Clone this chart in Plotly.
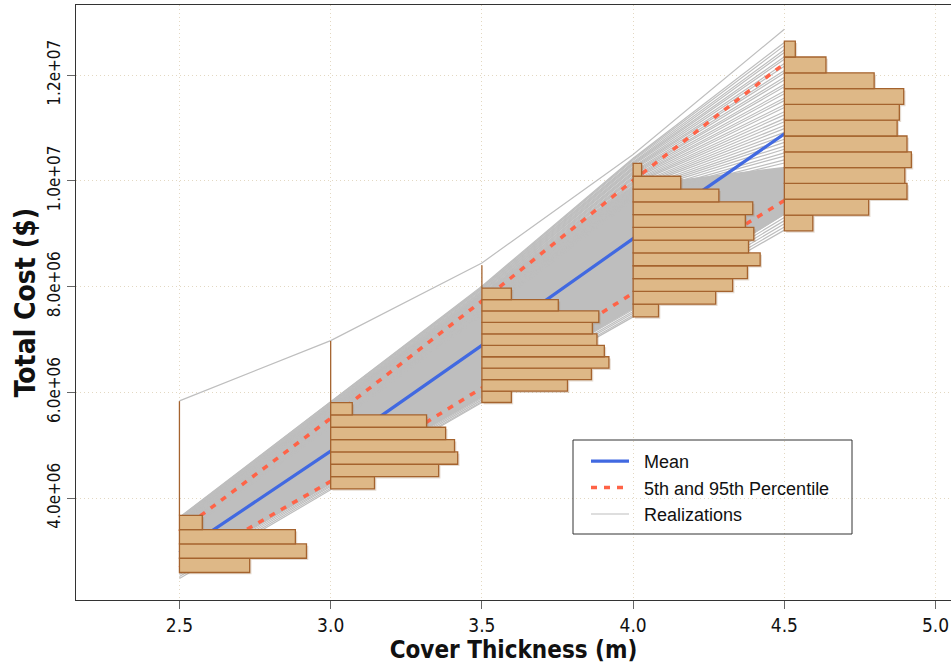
import numpy as np
import plotly.graph_objects as go

# ---------------- data (costs in $) ----------------
thickness = [2.5, 3.0, 3.5, 4.0, 4.5]
mean_cost = [2.97e6, 4.89e6, 6.89e6, 8.91e6, 10.89e6]
p05_cost = [2.68e6, 4.32e6, 6.085e6, 7.88e6, 9.63e6]
p95_cost = [3.37e6, 5.51e6, 7.73e6, 10.01e6, 12.22e6]

# dense core of overlapping realizations (solid grey area)
core_lower = [2.62e6, 4.26e6, 5.90e6, 7.58e6, 9.36e6]
core_upper = [3.56e6, 5.74e6, 7.88e6, 9.92e6, 10.27e6]

# individually visible realizations: value (millions of $) of each line at each thickness
real_25 = [5.84, 3.64, 3.63, 3.62, 3.61, 3.60, 3.59, 3.58, 3.57, 3.56, 3.55, 3.54, 3.53,
           3.52, 3.51, 3.50, 3.49, 3.48, 3.47, 3.46, 3.45, 3.44, 3.43, 3.42, 3.41, 3.40,
           3.39, 3.38, 3.37, 3.36, 3.35, 3.34, 3.33, 3.32, 3.31, 3.30, 3.29,
           2.48, 2.52, 2.56, 2.60, 2.64, 2.68]
real_30 = [6.98, 5.83, 5.82, 5.80, 5.79, 5.77, 5.76, 5.75, 5.73, 5.72, 5.70, 5.69, 5.68,
           5.66, 5.65, 5.63, 5.62, 5.61, 5.59, 5.58, 5.56, 5.55, 5.54, 5.52, 5.51, 5.49,
           5.48, 5.47, 5.45, 5.44, 5.42, 5.41, 5.40, 5.38, 5.37, 5.35, 5.34,
           4.16, 4.19, 4.22, 4.25, 4.28, 4.31]
real_35 = [8.45, 8.01, 7.99, 7.98, 7.96, 7.95, 7.93, 7.91, 7.90, 7.88, 7.86, 7.85, 7.83,
           7.82, 7.80, 7.78, 7.77, 7.75, 7.74, 7.72, 7.70, 7.69, 7.67, 7.66, 7.64, 7.62,
           7.61, 7.59, 7.57, 7.56, 7.54, 7.53, 7.51, 7.49, 7.48, 7.46, 7.45,
           5.81, 5.83, 5.86, 5.89, 5.92, 5.95]
real_40 = [10.50, 10.43, 10.41, 10.39, 10.36, 10.34, 10.32, 10.30, 10.27, 10.25, 10.23,
           10.21, 10.18, 10.16, 10.14, 10.12, 10.09, 10.07, 10.05, 10.03, 10.00, 9.98,
           9.96, 9.94, 9.91, 9.89, 9.87, 9.85, 9.82, 9.80, 9.78, 9.76, 9.73, 9.71, 9.69,
           9.67, 9.64,
           7.43, 7.46, 7.50, 7.53, 7.57, 7.61]
real_45 = [12.87, 12.62, 12.56, 12.48, 12.43, 12.35, 12.30, 12.22, 12.17, 12.09, 12.04,
           11.96, 11.91, 11.83, 11.78, 11.70, 11.65, 11.57, 11.52, 11.44, 11.39, 11.31,
           11.25, 11.18, 11.12, 11.05, 10.99, 10.92, 10.86, 10.79, 10.73, 10.66, 10.60,
           10.53, 10.47, 10.40, 10.34,
           9.07, 9.13, 9.19, 9.25, 9.31, 9.37]

# histograms of total cost at each thickness (12 bins, bottom -> top)
hist_pos = [2.5, 3.0, 3.5, 4.0, 4.5]
hist_min = [2.595e6, 4.176e6, 5.810e6, 7.429e6, 9.056e6]
hist_max = [5.835e6, 6.975e6, 8.407e6, 10.331e6, 12.644e6]
hist_counts = [
    [209, 378, 345, 68, 0, 0, 0, 0, 0, 0, 0, 0],
    [69, 170, 200, 195, 181, 151, 34, 0, 0, 0, 0, 0],
    [32, 93, 119, 138, 133, 125, 120, 127, 83, 32, 0, 0],
    [24, 78, 94, 108, 120, 109, 114, 106, 113, 81, 45, 8],
    [26, 77, 112, 110, 116, 112, 103, 105, 109, 82, 38, 10],
]
HIST_WIDTH = 0.42  # x-extent of the tallest bin

x_ticks = [2.5, 3.0, 3.5, 4.0, 4.5, 5.0]
x_ticktext = ["2.5", "3.0", "3.5", "4.0", "4.5", "5.0"]
y_ticks = [4e6, 6e6, 8e6, 10e6, 12e6]
y_ticktext = ["4.0e+06", "6.0e+06", "8.0e+06", "1.0e+07", "1.2e+07"]

X_RANGE = [2.158, 5.051]
Y_RANGE = [2.075e6, 13.328e6]

# ---------------- styles ----------------
AXIS_FONT = "DejaVu Sans Condensed, Liberation Sans Narrow, Liberation Sans, Arial, sans-serif"
LEG_FONT = "Liberation Sans, Arial, sans-serif"
GREY = "#BEBEBE"
GRID = "#E3D8C2"
BAR_FILL = "#DEB887"
BAR_LINE = "#A5632E"
NB = "\u00a0\u00a0"

fig = go.Figure()

# dense core
fig.add_trace(go.Scatter(
    x=thickness + thickness[::-1],
    y=core_upper + core_lower[::-1],
    fill="toself", fillcolor=GREY, line=dict(width=0),
    mode="lines", showlegend=False, hoverinfo="skip"))

# individual realizations
rx, ry = [], []
for vals in zip(real_25, real_30, real_35, real_40, real_45):
    rx += thickness + [None]
    ry += [v * 1e6 for v in vals] + [None]
fig.add_trace(go.Scatter(
    x=rx, y=ry, mode="lines", line=dict(color=GREY, width=1.2),
    name=NB + "Realizations", legendrank=3, hoverinfo="skip"))

# percentiles
fig.add_trace(go.Scatter(
    x=thickness + [None] + thickness, y=p05_cost + [None] + p95_cost,
    mode="lines", line=dict(color="#FF6347", width=3.5, dash="6px,7px"),
    name=NB + "5th and 95th Percentile", legendrank=2, hoverinfo="skip"))

# mean
fig.add_trace(go.Scatter(
    x=thickness, y=mean_cost, mode="lines",
    line=dict(color="#4169E1", width=3.2),
    name=NB + "Mean", legendrank=1, hoverinfo="skip"))

# histograms (on an overlaying axis pair so they sit above the lines)
for pos, hmin, hmax, counts in zip(hist_pos, hist_min, hist_max, hist_counts):
    edges = np.linspace(hmin, hmax, len(counts) + 1)
    centers = (edges[:-1] + edges[1:]) / 2
    binw = edges[1] - edges[0]
    cmax = max(counts)
    idx = [i for i, c in enumerate(counts) if c > 0]
    lengths = [counts[i] / cmax * HIST_WIDTH for i in idx]
    # soft shadow
    fig.add_trace(go.Bar(
        orientation="h", base=pos + 0.006,
        y=[centers[i] - 0.035e6 for i in idx], x=lengths,
        width=binw, marker=dict(color="rgba(150,110,70,0.25)", line=dict(width=0)),
        xaxis="x2", yaxis="y2", showlegend=False, hoverinfo="skip"))
    fig.add_trace(go.Bar(
        orientation="h", base=pos,
        y=[centers[i] for i in idx], x=lengths,
        width=binw, marker=dict(color=BAR_FILL, line=dict(color=BAR_LINE, width=1.3)),
        xaxis="x2", yaxis="y2", showlegend=False, hoverinfo="skip"))
    top_nonzero = edges[idx[-1] + 1]
    if top_nonzero < hmax:
        fig.add_trace(go.Scatter(
            x=[pos, pos], y=[top_nonzero, hmax], mode="lines",
            line=dict(color=BAR_LINE, width=1.3),
            xaxis="x2", yaxis="y2", showlegend=False, hoverinfo="skip"))

# legend frame
PL, PR, PT, PB = 76, 951, 5, 600
W, H = PR - PL, PB - PT
fig.add_shape(type="rect", xref="paper", yref="paper",
              x0=(573 - PL) / W, x1=(852 - PL) / W,
              y0=(PB - 534) / H, y1=(PB - 440) / H,
              line=dict(color="#333333", width=1), fillcolor="rgba(0,0,0,0)")

axis_common = dict(
    showline=True, linecolor="#333333", linewidth=1, mirror=True,
    ticks="outside", ticklen=8, tickcolor="#666666", tickwidth=1,
    showgrid=True, gridcolor=GRID, griddash="1px,3px", gridwidth=1,
    zeroline=False, automargin=False,
)

fig.update_layout(
    width=951, height=668,
    margin=dict(l=PL, r=951 - PR, t=PT, b=668 - PB, autoexpand=False),
    paper_bgcolor="white", plot_bgcolor="white",
    barmode="overlay",
    xaxis=dict(range=X_RANGE, tickvals=x_ticks, ticktext=x_ticktext,
               tickfont=dict(family=AXIS_FONT, size=19, color="#111111"),
               title=dict(text="<b>Cover Thickness (m)</b>", standoff=4,
                          font=dict(family=AXIS_FONT, size=24, color="#111111")),
               **axis_common),
    yaxis=dict(range=Y_RANGE, tickvals=y_ticks, ticktext=y_ticktext, tickangle=-90,
               tickfont=dict(family=AXIS_FONT, size=17, color="#111111"),
               title=dict(text="<b>Total Cost ($)</b>", standoff=0,
                          font=dict(family=AXIS_FONT, size=28, color="#111111")),
               **axis_common),
    xaxis2=dict(range=X_RANGE, overlaying="x", visible=False, showgrid=False),
    yaxis2=dict(range=Y_RANGE, overlaying="y", visible=False, showgrid=False),
    legend=dict(x=(586 - PL) / W, y=(PB - 443) / H, xanchor="left", yanchor="top",
                bgcolor="rgba(0,0,0,0)", borderwidth=0, itemwidth=38,
                font=dict(family=LEG_FONT, size=18, color="#111111"),
                traceorder="normal"),
    showlegend=True,
)

fig.write_html("out.html",
               config={"displayModeBar": False},
               post_script="document.body.style.margin='0';document.body.style.overflow='hidden';")
